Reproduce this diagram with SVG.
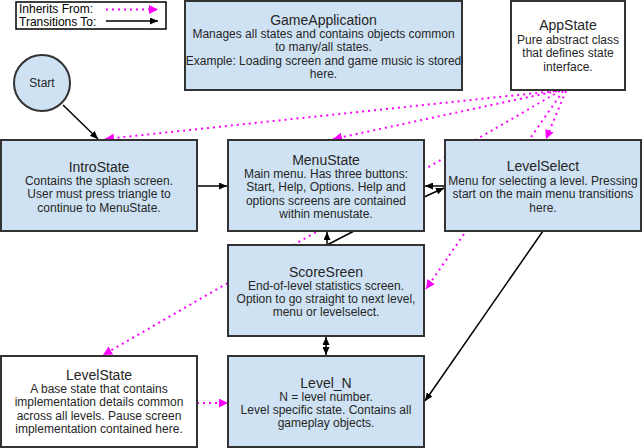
<svg xmlns="http://www.w3.org/2000/svg" width="642" height="448" viewBox="0 0 642 448">
<style>
.box{fill:#cfe2f3;stroke:#333333;stroke-width:2}
.wbox{fill:#ffffff;stroke:#333333;stroke-width:2}
.t{font-family:"Liberation Sans",Arial,sans-serif;font-size:14px;fill:#262626;text-anchor:middle}
.b{font-family:"Liberation Sans",Arial,sans-serif;font-size:12px;fill:#262626;text-anchor:middle}
.lg{font-family:"Liberation Sans",Arial,sans-serif;font-size:12px;fill:#000000}
.inh{fill:none;stroke:#ff00ff;stroke-width:2;stroke-dasharray:2 4;marker-end:url(#mag)}
.tr{fill:none;stroke:#000000;stroke-width:1.5;marker-end:url(#blk)}
</style>
<defs>
<marker id="blk" markerUnits="userSpaceOnUse" markerWidth="9" markerHeight="7" refX="8" refY="3.5" orient="auto-start-reverse">
<path d="M0,0 L8,3.5 L0,7 z" fill="#000000"/>
</marker>
<marker id="mag" markerUnits="userSpaceOnUse" markerWidth="10" markerHeight="9" refX="9" refY="4.5" orient="auto">
<path d="M0,0 L9,4.5 L0,9 z" fill="#ff00ff"/>
</marker>
</defs>
<g id="legend">
<rect x="16" y="2" width="150" height="27" fill="#ffffff" stroke="#000000" stroke-width="1.5"/>
<text class="lg" x="19" y="13">Inherits From:</text>
<text class="lg" x="19" y="26">Transitions To:</text>
<line x1="106" y1="9.5" x2="158" y2="9.5" class="inh"/>
<line x1="106" y1="21" x2="158" y2="21" class="tr"/>
</g>
<g id="connectors">
<line x1="555" y1="91" x2="105" y2="139" class="inh"/>
<line x1="557" y1="91" x2="333" y2="139" class="inh"/>
<line x1="560" y1="91" x2="103" y2="355" class="inh"/>
<line x1="563" y1="91" x2="426" y2="289" class="inh"/>
<line x1="566" y1="91" x2="546" y2="139" class="inh"/>
<line x1="197" y1="403" x2="228" y2="403" class="inh"/>
<line x1="63" y1="105" x2="98" y2="139" class="tr"/>
<line x1="197" y1="186" x2="227" y2="186" class="tr"/>
<line x1="445" y1="186" x2="425" y2="186" class="tr"/>
<line x1="424" y1="197" x2="444" y2="188" class="tr"/>
<line x1="327" y1="245" x2="327" y2="232" class="tr"/>
<line x1="354" y1="231" x2="327" y2="245" fill="none" stroke="#000000" stroke-width="1.5"/>
<line x1="326" y1="337" x2="326" y2="355" class="tr" marker-start="url(#blk)"/>
<line x1="543" y1="231" x2="425" y2="401" class="tr"/>
</g>
<g id="start">
<circle cx="42" cy="83" r="28" class="box"/>
<text class="b" x="42" y="87">Start</text>
</g>
<g id="gameapplication">
<rect x="185" y="1" width="277" height="89" class="box"/>
<text class="t" x="323.5" y="25">GameApplication</text>
<text class="b" x="323.5" y="38">Manages all states and contains objects common</text>
<text class="b" x="323.5" y="51">to many/all states.</text>
<text class="b" x="323.5" y="65">Example: Loading screen and game music is stored</text>
<text class="b" x="323.5" y="78">here.</text>
</g>
<g id="appstate">
<rect x="511" y="1" width="114" height="89" class="wbox"/>
<text class="t" x="568" y="30">AppState</text>
<text class="b" x="568" y="44">Pure abstract class</text>
<text class="b" x="568" y="57">that defines state</text>
<text class="b" x="568" y="71">interface.</text>
</g>
<g id="introstate">
<rect x="1" y="140" width="196" height="91" class="box"/>
<text class="t" x="99" y="172">IntroState</text>
<text class="b" x="99" y="185">Contains the splash screen.</text>
<text class="b" x="99" y="198">User must press triangle to</text>
<text class="b" x="99" y="212">continue to MenuState.</text>
</g>
<g id="menustate">
<rect x="228" y="140" width="196" height="91" class="box"/>
<text class="t" x="326" y="165">MenuState</text>
<text class="b" x="326" y="178">Main menu. Has three buttons:</text>
<text class="b" x="326" y="191">Start, Help, Options. Help and</text>
<text class="b" x="326" y="205">options screens are contained</text>
<text class="b" x="326" y="218">within menustate.</text>
</g>
<g id="levelselect">
<rect x="445" y="140" width="196" height="91" class="box"/>
<text class="t" x="543" y="171">LevelSelect</text>
<text class="b" x="543" y="185">Menu for selecting a level. Pressing</text>
<text class="b" x="543" y="198">start on the main menu transitions</text>
<text class="b" x="543" y="212">here.</text>
</g>
<g id="scoresreen">
<rect x="228" y="245" width="196" height="91" class="box"/>
<text class="t" x="326" y="277">ScoreSreen</text>
<text class="b" x="326" y="290">End-of-level statistics screen.</text>
<text class="b" x="326" y="303">Option to go straight to next level,</text>
<text class="b" x="326" y="316">menu or levelselect.</text>
</g>
<g id="levelstate">
<rect x="1" y="356" width="196" height="91" class="wbox"/>
<text class="t" x="99" y="380">LevelState</text>
<text class="b" x="99" y="393">A base state that contains</text>
<text class="b" x="99" y="406">implementation details common</text>
<text class="b" x="99" y="420">across all levels. Pause screen</text>
<text class="b" x="99" y="433">implementation contained here.</text>
</g>
<g id="level_n">
<rect x="228" y="356" width="196" height="91" class="box"/>
<text class="t" x="326" y="388">Level_N</text>
<text class="b" x="326" y="401">N = level number.</text>
<text class="b" x="326" y="414">Level specific state. Contains all</text>
<text class="b" x="326" y="427">gameplay objects.</text>
</g>
</svg>
